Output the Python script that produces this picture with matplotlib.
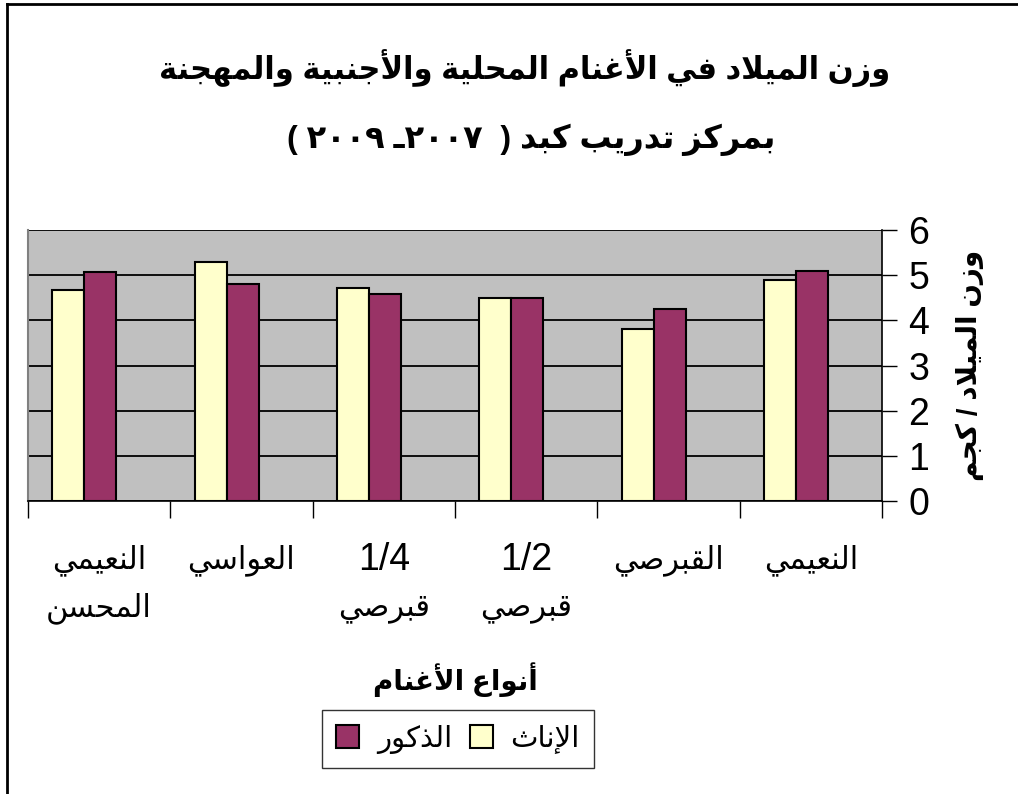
import matplotlib
matplotlib.use("Agg")
import matplotlib.pyplot as plt
from matplotlib.lines import Line2D
from matplotlib.patches import Patch
import numpy as np

# data, categories left -> right
categories = ["النعيمي\nالمحسن", "العواسي", "1/4\nقبرصي", "1/2\nقبرصي", "القبرصي", "النعيمي"]
females = [4.67, 5.30, 4.72, 4.49, 3.81, 4.89]
males = [5.08, 4.81, 4.58, 4.49, 4.25, 5.09]
yticks = [0, 1, 2, 3, 4, 5, 6]

title_1 = "وزن الميلاد في الأغنام المحلية والأجنبية والمهجنة"
title_2 = "بمركز تدريب كبد"
title_years = "( ٢٠٠٩ ـ٢٠٠٧  )"
xlabel = "أنواع الأغنام"
ylabel = "وزن الميلاد / كجم"
label_f = "الإناث"
label_m = "الذكور"

FEMALE_COLOR = "#FFFFCC"
MALE_COLOR = "#993366"
PLOT_BG = "#C0C0C0"

# --- minimal Arabic shaping (presentation forms) + visual reordering ---
_RIGHT = {'آ': 0xFE81, 'أ': 0xFE83, 'ؤ': 0xFE85, 'إ': 0xFE87, 'ا': 0xFE8D,
          'ة': 0xFE93, 'د': 0xFEA9, 'ذ': 0xFEAB, 'ر': 0xFEAD, 'ز': 0xFEAF,
          'و': 0xFEED, 'ى': 0xFEEF,
          'لآ': 0xFEF5, 'لأ': 0xFEF7, 'لإ': 0xFEF9, 'لا': 0xFEFB}
_DUAL = {'ئ': 0xFE89, 'ب': 0xFE8F, 'ت': 0xFE95, 'ث': 0xFE99, 'ج': 0xFE9D,
         'ح': 0xFEA1, 'خ': 0xFEA5, 'س': 0xFEB1, 'ش': 0xFEB5, 'ص': 0xFEB9,
         'ض': 0xFEBD, 'ط': 0xFEC1, 'ظ': 0xFEC5, 'ع': 0xFEC9, 'غ': 0xFECD,
         'ف': 0xFED1, 'ق': 0xFED5, 'ك': 0xFED9, 'ل': 0xFEDD, 'م': 0xFEE1,
         'ن': 0xFEE5, 'ه': 0xFEE9, 'ي': 0xFEF1}
_TATWEEL = 'ـ'


def _kind(k):
    if k in _DUAL:
        return 'D'
    if k in _RIGHT:
        return 'R'
    if k == _TATWEEL:
        return 'T'
    return None


def ar(text):
    keys = []
    i = 0
    while i < len(text):
        c = text[i]
        if c == 'ل' and i + 1 < len(text) and ('ل' + text[i + 1]) in _RIGHT:
            keys.append('ل' + text[i + 1])
            i += 2
        else:
            keys.append(c)
            i += 1
    out = []
    for j, k in enumerate(keys):
        kind = _kind(k)
        prev_k = _kind(keys[j - 1]) if j > 0 else None
        next_k = _kind(keys[j + 1]) if j + 1 < len(keys) else None
        jp = kind in ('R', 'D') and prev_k in ('D', 'T')
        jn = kind == 'D' and next_k in ('R', 'D', 'T')
        if kind == 'R':
            out.append(chr(_RIGHT[k] + (1 if jp else 0)))
        elif kind == 'D':
            off = 3 if (jp and jn) else 2 if jn else 1 if jp else 0
            out.append(chr(_DUAL[k] + off))
        else:
            out.append(k)
    return ''.join(reversed(out))


def is_arabic(s):
    return any('\u0600' <= c <= '\u06FF' for c in s)


plt.rcParams['font.family'] = ['Liberation Sans', 'DejaVu Sans']

fig = plt.figure(figsize=(10.18, 7.94), dpi=100)
ax = fig.add_axes([28 / 1018, 1 - 501 / 794, (882 - 28) / 1018, (501 - 230) / 794])
ax.set_facecolor(PLOT_BG)

x = np.arange(len(categories))
width = 0.225
shift = -0.105
ax.bar(x + shift - width / 2, females, width, color=FEMALE_COLOR,
       edgecolor='black', linewidth=1.5, zorder=3)
ax.bar(x + shift + width / 2, males, width, color=MALE_COLOR,
       edgecolor='black', linewidth=1.5, zorder=3)

ax.set_xlim(-0.5, len(categories) - 0.5)
ax.set_ylim(0, 6)

# y axis on the right
ax.yaxis.tick_right()
ax.set_yticks(yticks)
ax.set_yticklabels([str(v) for v in yticks], fontsize=27)
ax.tick_params(axis='y', direction='out', length=11, width=1, pad=8)
ax.grid(axis='y', color='black', linewidth=1.3, zorder=1)

# x: tick marks at the category boundaries, labels drawn line by line
ax.set_xticks(np.arange(len(categories) + 1) - 0.5)
ax.set_xticklabels([])
ax.tick_params(axis='x', which='major', direction='out', length=12, width=1)

line_y = [-0.2177, -0.395]
trans = ax.get_xaxis_transform()
for xi, cat in zip(x, categories):
    for li, line in enumerate(cat.split("\n")):
        if is_arabic(line):
            ax.text(xi, line_y[li], ar(line), transform=trans, ha='center',
                    va='center', fontsize=22)
        else:
            ax.text(xi, line_y[li], line, transform=trans, ha='center',
                    va='center', fontsize=27)

ax.spines['top'].set_visible(False)
ax.spines['left'].set_color('#808080')
ax.spines['left'].set_linewidth(1.5)
ax.spines['right'].set_linewidth(1.2)
ax.spines['bottom'].set_linewidth(1.2)

# titles and axis labels
fig.text(0.515, 1 - 68 / 794, ar(title_1), ha='center', va='center',
         fontsize=22, fontweight='bold')
fig.text(0.522, 1 - 140 / 794, title_years + " " + ar(title_2), ha='center',
         va='center', fontsize=23, fontweight='bold')
fig.text(455 / 1018, 1 - 680 / 794, ar(xlabel), ha='center', va='center',
         fontsize=20, fontweight='bold')
fig.text(970 / 1018, 1 - 365 / 794, ar(ylabel), ha='center', va='center',
         fontsize=20, fontweight='bold', rotation=90)

# legend (RTL order: females on the right)
handles = [Patch(facecolor=MALE_COLOR, edgecolor='black', linewidth=1.5),
           Patch(facecolor=FEMALE_COLOR, edgecolor='black', linewidth=1.5)]
leg = fig.legend(handles, [ar(label_m), ar(label_f)], ncol=2,
                 loc='center', bbox_to_anchor=(458 / 1018, 1 - 739 / 794),
                 fontsize=21, frameon=True, fancybox=False, edgecolor='black',
                 handlelength=0.8, handleheight=0.8, handletextpad=0.6,
                 columnspacing=0.6, borderpad=0.5)
leg.get_frame().set_linewidth(1.0)

# chart border (only left and top edges are inside the image)
fig.add_artist(Line2D([7 / 1018, 7 / 1018], [0, 1 - 4 / 794], color='black', linewidth=2))
fig.add_artist(Line2D([7 / 1018, 1], [1 - 4 / 794, 1 - 4 / 794], color='black', linewidth=2))

fig.savefig("out.png", dpi=100)
